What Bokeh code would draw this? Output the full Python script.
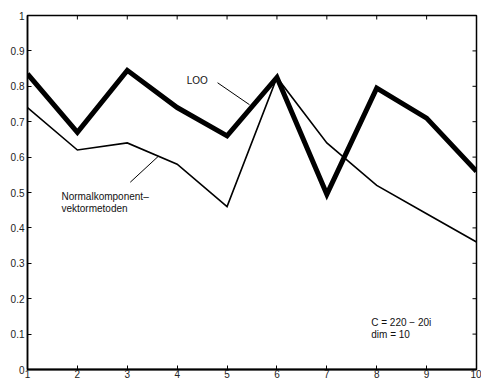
import math
from bokeh.plotting import figure
from bokeh.models import FixedTicker, Range1d
from bokeh.core.properties import value
from bokeh.embed import file_html
from bokeh.resources import INLINE

x = [1, 2, 3, 4, 5, 6, 7, 8, 9, 10]
loo = [0.835, 0.67, 0.845, 0.74, 0.66, 0.825, 0.495, 0.795, 0.71, 0.56]
normal = [0.74, 0.62, 0.64, 0.58, 0.46, 0.825, 0.64, 0.52, 0.44, 0.36]
y_ticks = [0, 0.1, 0.2, 0.3, 0.4, 0.5, 0.6, 0.7, 0.8, 0.9, 1.0]
y_labels = ["0", "0.1", "0.2", "0.3", "0.4", "0.5", "0.6", "0.7", "0.8", "0.9", "1"]

FONT = "Liberation Sans"

p = figure(width=481, height=380, output_backend="svg", toolbar_location=None,
           x_range=Range1d(1, 10), y_range=Range1d(0, 1),
           min_border_left=27, min_border_right=5, min_border_top=15, min_border_bottom=0)
p.grid.visible = False
p.outline_line_color = "black"
p.outline_line_width = 1.5
p.background_fill_color = "white"
p.border_fill_color = "white"

for ax in (p.xaxis[0], p.yaxis[0]):
    ax.major_tick_in = 4
    ax.major_tick_out = 0
    ax.minor_tick_line_color = None
    ax.axis_line_color = "black"
    ax.axis_line_width = 1.5
    ax.major_tick_line_color = "black"
    ax.major_label_text_font = FONT
    ax.major_label_text_font_size = "10px"
    ax.major_label_text_color = "#222222"

p.yaxis.major_label_standoff = 3
p.xaxis.major_label_standoff = 0
p.xaxis.ticker = FixedTicker(ticks=x)
p.yaxis.ticker = FixedTicker(ticks=y_ticks)
p.yaxis.major_label_overrides = {t: l for t, l in zip(y_ticks, y_labels)}
p.xaxis.axis_line_width = 2

# inward ticks on top and right edges (outer halves are clipped by the frame)
p.scatter(x=x, y=[1.0] * len(x), marker="dash", angle=math.pi / 2, size=8,
          line_color="black", line_width=1)
p.scatter(x=[10] * len(y_ticks), y=y_ticks, marker="dash", size=8,
          line_color="black", line_width=1)

p.line(x, loo, line_color="black", line_width=5, line_join="miter")
p.line(x, normal, line_color="black", line_width=1.6, line_join="miter")

# annotations
loo_label = (4.19, 0.815)
loo_ptr = ([4.81], [0.81], [5.45], [0.748])
norm_label = (1.68, [0.49, 0.454])
norm_ptr = ([3.06], [0.529], [3.62], [0.602])
info_label = (7.89, [0.134, 0.098])

p.segment(x0=loo_ptr[0], y0=loo_ptr[1], x1=loo_ptr[2], y1=loo_ptr[3], line_color="black", line_width=1)
p.segment(x0=norm_ptr[0], y0=norm_ptr[1], x1=norm_ptr[2], y1=norm_ptr[3], line_color="black", line_width=1)

txt = dict(text_font=value(FONT), text_font_size="10px", text_color="#111111",
           text_baseline="middle", text_align="left")
p.text(x=[loo_label[0]], y=[loo_label[1]], text=["LOO"], **txt)
p.text(x=[norm_label[0]] * 2, y=norm_label[1], text=["Normalkomponent\u2013", "vektormetoden"], **txt)
p.text(x=[info_label[0]] * 2, y=info_label[1], text=["C = 220 \u2212 20i", "dim = 10"], **txt)

open("out.html", "w").write(file_html(p, INLINE))
